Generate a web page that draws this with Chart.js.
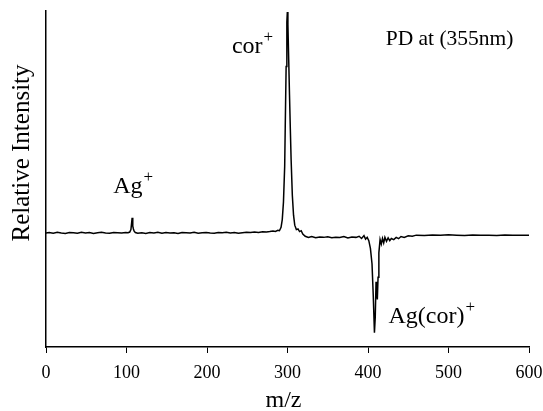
<!DOCTYPE html>
<html>
<head>
<meta charset="utf-8">
<script src="https://cdn.jsdelivr.net/npm/chart.js@4/dist/chart.umd.min.js"></script>
<style>
  body { margin: 0; background: #fff; }
  canvas { display: block; }
</style>
</head>
<body>
<canvas id="spektrum" width="543" height="411"></canvas>
<script>
// m/z values
const mz = [
  0, 4, 9, 14, 19, 24, 29, 34, 39, 44, 49, 54, 59, 64, 69, 74, 79, 84, 89, 94, 99,
  102, 104, 105.5, 106.5, 107, 107.8, 108.6, 109.5, 111, 114,
  119, 124, 129, 134, 139, 144, 149, 154, 159, 164, 169, 174, 179, 184, 189, 194,
  199, 204, 209, 214, 219, 224, 229, 234, 239, 244, 249, 254, 259, 264, 269, 274,
  278, 282, 285, 288, 290, 292, 293.5, 295, 296.5, 297.2, 298.3, 299.2, 299.8, 300.5,
  301.5, 302.5, 303.5, 304.5, 306, 307.5, 309, 311, 313, 315, 317, 319, 322, 326, 330, 335,
  340, 345, 350, 355, 360, 365, 370, 375, 380, 385, 389, 392, 395, 397, 399, 401,
  403, 405, 406.5, 408, 409, 410, 410.8, 411.6, 412.5, 413.5, 415, 416.5, 418,
  419.5, 421, 423, 425, 427, 429, 432, 435, 438, 441, 445, 450, 455, 460, 470,
  480, 490, 500, 510, 520, 530, 540, 550, 560, 570, 580, 590, 600
];
// relative intensity (arbitrary units, baseline = 0)
const intensity = [
  0, 0.2, -0.1, 0.3, 0, -0.2, 0.2, 0.1, -0.1, 0.3, 0, 0.2, -0.2, 0.1, 0.3, 0, -0.1, 0.2, 0.1, 0, 0.2,
  0.1, 0.4, 1.5, 5, 6.8, 3, 1.8, 0.8, 0.2, -0.1,
  0.1, -0.2, 0.2, 0, 0.3, -0.1, 0.2, 0, 0.1, -0.2, 0.2, 0.1, 0, 0.3, -0.1, 0.1,
  0.2, 0, -0.1, 0.2, 0.1, 0.3, 0, 0.2, -0.1, 0.1, 0.3, 0.2, 0.4, 0.2, 0.5, 0.4,
  0.6, 0.9, 0.7, 1.2, 1.0, 2.5, 6, 14, 30, 48, 75, 95, 99.5, 94,
  78, 62, 47, 33, 17, 8, 3.5, 1.5, 1.8, 0.6, 1.0, -0.5, -1.5, -2, -1.6, -2.2,
  -1.8, -2, -1.7, -2.2, -1.9, -2.1, -1.6, -2.3, -1.8, -2, -1.5, -2.5, -1.2, -2.8, -2, -3.5,
  -7, -14, -28, -45, -38, -22, -26, -30, -20, -9, -3, -5, -2.5,
  -4.5, -2, -3.8, -2.2, -3.5, -2.5, -3, -2, -2.6, -1.6, -2, -1.3, -1.5, -1, -1.2,
  -0.9, -1.1, -0.8, -1, -1.2, -0.9, -1.1, -1, -1.2, -0.9, -1.1, -1, -1.1
];
const xTicks = [0, 100, 200, 300, 400, 500, 600];

// annotations (data coordinates)
const noteText = ['PD at (355nm)', 'cor', 'Ag', 'Ag(cor)'];
const noteSup = ['', '+', '+', '+'];
const noteX = [422, 231, 83.5, 425.5];
const noteY = [84.7, 81, 18, -40.5];

const SERIF = '"Liberation Serif", "Times New Roman", serif';

// Beschriftungen und Achsentitel
const textPlugin = {
  id: 'textPlugin',
  afterDraw(chart) {
    const { ctx, scales: { x, y }, chartArea } = chart;
    ctx.save();
    ctx.fillStyle = '#000';
    ctx.textBaseline = 'alphabetic';
    ctx.textAlign = 'left';
    noteText.forEach((t, i) => {
      const px = x.getPixelForValue(noteX[i]);
      const py = y.getPixelForValue(noteY[i]);
      ctx.font = (i === 0 ? '21.5px ' : '24px ') + SERIF;
      ctx.fillText(t, px, py);
      if (noteSup[i]) {
        const w = ctx.measureText(t).width;
        ctx.font = '17px ' + SERIF;
        ctx.fillText(noteSup[i], px + w + 1, py - 11);
      }
    });
    // x title
    ctx.font = '24px ' + SERIF;
    ctx.textAlign = 'center';
    ctx.textBaseline = 'middle';
    ctx.fillText('m/z', (chartArea.left + chartArea.right) / 2 - 4, x.bottom - 10);
    // y title
    ctx.font = '25px ' + SERIF;
    ctx.translate(22, 153);
    ctx.rotate(-Math.PI / 2);
    ctx.fillText('Relative Intensity', 0, 0);
    ctx.restore();
  }
};

const ctx = document.getElementById('spektrum').getContext('2d');
window.myChart = new Chart(ctx, {
  type: 'line',
  data: {
    datasets: [{
      data: mz.map((v, i) => ({ x: v, y: intensity[i] })),
      borderColor: '#000',
      borderWidth: 1.5,
      pointRadius: 0,
      tension: 0,
      fill: false
    }]
  },
  options: {
    responsive: false,
    animation: false,
    layout: { padding: { top: 11, right: 14, left: 0, bottom: 0 } },
    plugins: {
      legend: { display: false },
      tooltip: { enabled: false }
    },
    scales: {
      x: {
        type: 'linear',
        min: 0,
        max: 600,
        afterBuildTicks: s => { s.ticks = xTicks.map(v => ({ value: v })); },
        afterFit: s => { s.height = 64; s.paddingLeft = 0; s.paddingRight = 0; },
        ticks: { color: '#000', padding: 9, maxRotation: 0, font: { family: SERIF, size: 18 } },
        grid: { display: true, drawOnChartArea: false, drawTicks: true, tickLength: 6, color: '#000', tickWidth: 1 },
        border: { display: true, color: '#000', width: 1.5 }
      },
      y: {
        min: -51.4,
        max: 100,
        afterFit: s => { s.width = 46; },
        ticks: { display: false },
        grid: { display: false },
        border: { display: true, color: '#000', width: 1.5 }
      }
    }
  },
  plugins: [textPlugin]
});
</script>
</body>
</html>
